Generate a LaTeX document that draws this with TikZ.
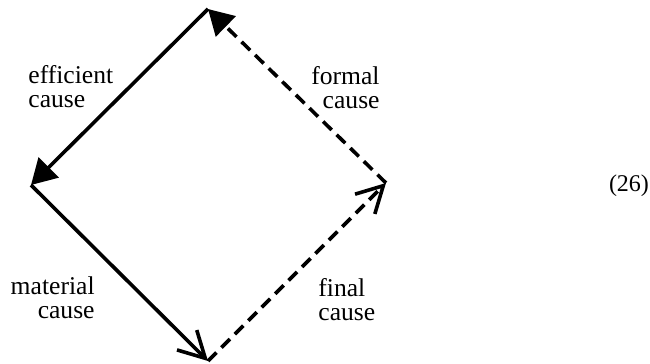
\documentclass[tikz,border=0pt]{standalone}
\usepackage{fontspec}
\setmainfont{Liberation Serif}
\usetikzlibrary{arrows.meta}
\tikzset{
  cause/.style={inner sep=0pt,font=\fontsize{12.8}{12}\selectfont},
  solidarr/.style={line width=1.8pt},
  dasharr/.style={line width=1.8pt,dash pattern=on 6pt off 3.5pt},
}
\begin{document}
\begin{tikzpicture}[x=0.5pt,y=-0.5pt]
	\useasboundingbox (0,0) rectangle (650,364);
	\coordinate (top) at (208,9);
	\coordinate (left) at (31,185);
	\coordinate (bottom) at (208,361);
	\coordinate (right) at (386,183);

	\draw[solidarr,-{Triangle[length=12.5pt,width=14pt]}] (top) -- (left);
	\draw[solidarr,-{Straight Barb[length=13pt,width=14pt]}] (left) -- (bottom);
	\draw[dasharr,-{Straight Barb[length=13pt,width=14pt]}] (bottom) -- (right);
	\draw[dasharr,-{Triangle[length=12.5pt,width=14pt]}] (right) -- (top);
	%labels
	\node[cause,anchor=north west,align=left] (eff) at (28,65) {efficient\\cause};
	\node[cause,anchor=north east,align=right] (form) at (380,66) {formal\\cause};
	\node[cause,anchor=north east,align=right] (mat) at (95,276) {material\\cause};
	\node[cause,anchor=north west,align=left] (fin) at (318,278) {final\\cause};
	\node[inner sep=0pt,font=\fontsize{12}{12}\selectfont] (num) at (629,186) {(26)};
\end{tikzpicture}
\end{document}
